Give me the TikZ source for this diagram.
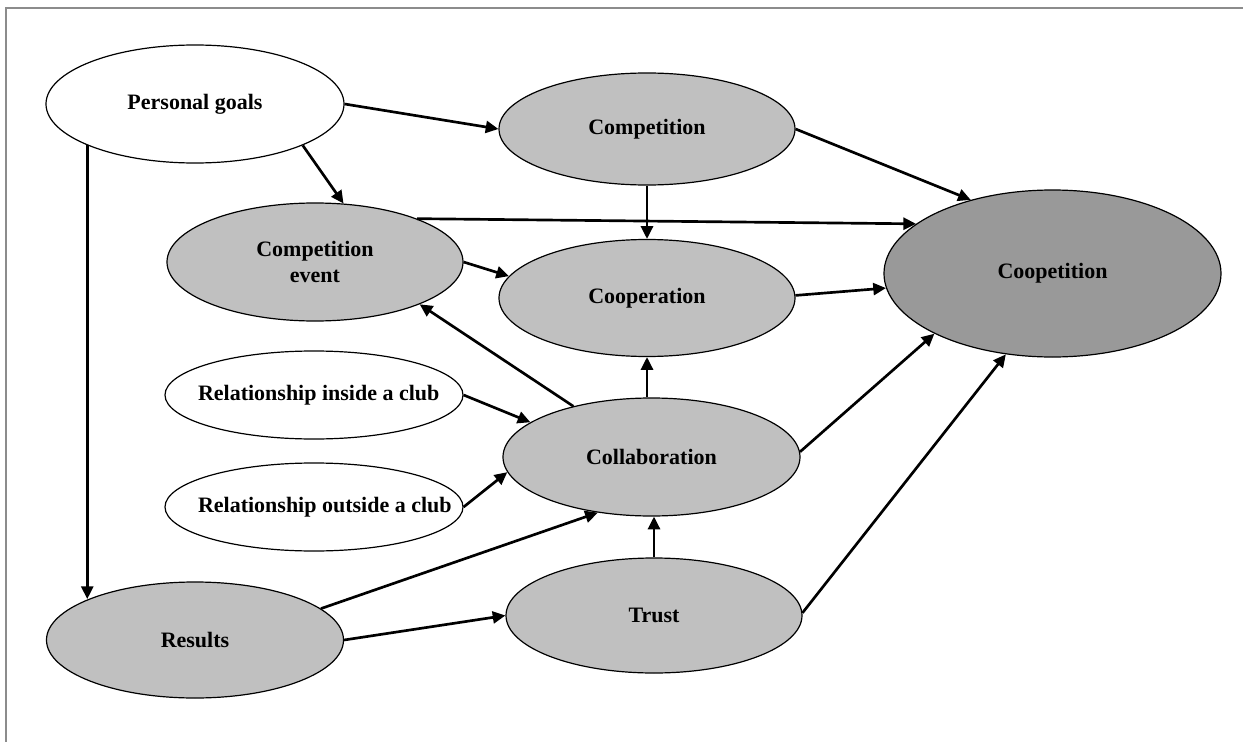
\documentclass[tikz,border=0pt]{standalone}
\usepackage{fontspec}
\setmainfont{Liberation Serif}
\usetikzlibrary{shapes.geometric,arrows.meta}
\definecolor{lightfill}{HTML}{C0C0C0}
\definecolor{darkfill}{HTML}{999999}
\definecolor{framegray}{HTML}{8C8C8C}

\begin{document}
\begin{tikzpicture}[x=0.75pt,y=-0.75pt]
      \useasboundingbox (0,0) rectangle (1243,742);
      \draw[framegray,line width=1pt] (6,742) -- (6,8) -- (1243,8);
      \begin{scope}[every node/.style={ellipse,draw,line width=0.9pt,fill=lightfill,inner sep=0pt,
          minimum width=222pt,minimum height=87pt,align=center,font=\fontsize{16.5}{20}\selectfont\bfseries}]
        \node[fill=white,minimum width=223.5pt,minimum height=88.5pt] (pg) at (195,104) {Personal goals};
        \node[minimum height=84pt] (comp) at (647,129) {Competition};
        \node[minimum height=88.5pt] (event) at (315,262) {Competition\\event};
        \node[minimum height=87.75pt] (coop) at (647,298) {Cooperation};
        \node[fill=darkfill,minimum width=252.75pt,minimum height=125.25pt] (coopet) at (1052.5,273.5) {Coopetition};
        \node[fill=white,minimum width=223.5pt,minimum height=66pt] (inside) at (314,395) {\makebox[0pt][l]{\hspace*{-87pt}Relationship inside a club}};
        \node[minimum width=222.75pt,minimum height=88.5pt] (collab) at (651.5,457) {Collaboration};
        \node[fill=white,minimum width=223.5pt,minimum height=66pt] (outside) at (314,507) {\makebox[0pt][l]{\hspace*{-87pt}Relationship outside a club}};
        \node[minimum width=222.75pt,minimum height=87pt] (res) at (195,640) {Results};
        \node[minimum height=86.25pt] (trust) at (654,615.5) {Trust};
      \end{scope}
      \begin{scope}[every edge/.style={draw,line width=2pt,-{Triangle[length=9.5pt,width=9pt]}}]
        \path (pg.east) edge (comp.west);
        \path (pg.-21.3) edge (event.64.2);
        \path (pg.201.36) edge (pg.201.36 |- res.159.04);
        \path (comp.east) edge (coopet.138);
        \path (comp.south) edge (coop.north);
        \path (event.23.7) edge (coopet.160.6);
        \path (event.east) edge (coop.171.3);
        \path (coop.1.5) edge (coopet.-175.6);
        \path (collab.147.9) edge (event.-22.1);
        \path (collab.north -| coop.south) edge (coop.south);
        \path (inside.east) edge (collab.164.5);
        \path (outside.east) edge (collab.186.2);
        \path (collab.2.7) edge (coopet.-153.2);
        \path (res.14.3) edge (collab.-134);
        \path (res.east) edge (trust.west);
        \path (trust.north) edge (trust.north |- collab.south);
        \path (trust.1) edge (coopet.-120);
      \end{scope}
    \end{tikzpicture}
\end{document}
